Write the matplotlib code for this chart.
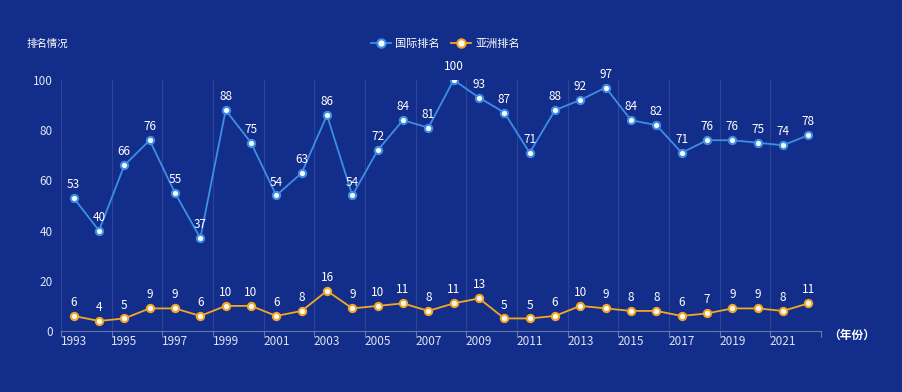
import numpy as np
import matplotlib.pyplot as plt
from matplotlib.lines import Line2D

plt.rcParams['font.family'] = ['Noto Sans CJK SC', 'DejaVu Sans']

years = [str(y) for y in range(1993, 2023)]
intl_rank = [53, 40, 66, 76, 55, 37, 88, 75, 54, 63, 86, 54, 72, 84, 81, 100, 93, 87,
             71, 88, 92, 97, 84, 82, 71, 76, 76, 75, 74, 78]
asia_rank = [6, 4, 5, 9, 9, 6, 10, 10, 6, 8, 16, 9, 10, 11, 8, 11, 13, 5, 5, 6, 10, 9,
             8, 8, 6, 7, 9, 9, 8, 11]

bg = '#122e8a'
blue = '#3d8ee8'
orange = '#f5a623'

fig = plt.figure(figsize=(9.02, 3.92), dpi=100, facecolor=bg)
ax = fig.add_axes([61 / 902, 61 / 392, 760 / 902, 251 / 392], facecolor=bg)

x = np.arange(len(years))
ax.plot(x, intl_rank, color=blue, lw=1.3, marker='o', ms=5.2, mfc='white', mec=blue, mew=1.5, zorder=3)
ax.plot(x, asia_rank, color=orange, lw=1.3, marker='o', ms=5.2, mfc='white', mec=orange, mew=1.5, zorder=3)

for i in range(len(x)):
    ax.annotate(str(intl_rank[i]), (x[i], intl_rank[i]), xytext=(0, 5), textcoords='offset points',
                ha='center', va='bottom', color='white', fontsize=8.5)
    ax.annotate(str(asia_rank[i]), (x[i], asia_rank[i]), xytext=(0, 5), textcoords='offset points',
                ha='center', va='bottom', color='white', fontsize=8.5)

ax.set_xlim(-0.5, len(years) - 0.5)
ax.set_ylim(0, 100)
ax.set_yticks([0, 20, 40, 60, 80, 100])
ax.tick_params(axis='y', length=0, colors='#dfe4f2', labelsize=8.5, pad=6)

# boundary ticks every two categories, labels on every other category
bounds = np.arange(-0.5, len(years) + 0.5, 2)
bounds = np.append(bounds, len(years) - 0.5)
ax.set_xticks(bounds)
ax.set_xticklabels([])
ax.set_xticks(x[::2], minor=True)
ax.set_xticklabels(years[::2], minor=True)
ax.tick_params(axis='x', which='major', length=4, color='#6a78a8')
ax.tick_params(axis='x', which='minor', length=0, colors='#dfe4f2', labelsize=8.5, pad=3)
for b in bounds:
    ax.axvline(b, color='#2c4496', lw=0.8, zorder=1)

for s in ['top', 'right', 'left']:
    ax.spines[s].set_visible(False)
ax.spines['bottom'].set_color('#6a78a8')

fig.text(27 / 902, 1 - 44 / 392, '排名情况', color='white', fontsize=7.5, va='center', ha='left')
fig.text(828 / 902, 1 - 335 / 392, '（年份）', color='white', fontsize=8.5, va='center', ha='left',
         fontweight='bold')

handles = [Line2D([], [], color=blue, lw=1.3, marker='o', ms=6, mfc='white', mec=blue, mew=1.5),
           Line2D([], [], color=orange, lw=1.3, marker='o', ms=6, mfc='white', mec=orange, mew=1.5)]
leg = fig.legend(handles, ['国际排名', '亚洲排名'], loc='center', bbox_to_anchor=(445 / 902, 1 - 44 / 392),
                 ncol=2, frameon=False, fontsize=8, handlelength=1.8, columnspacing=1.0, handletextpad=0.4)
for t in leg.get_texts():
    t.set_color('white')

fig.savefig('out.png', dpi=100, facecolor=bg)
